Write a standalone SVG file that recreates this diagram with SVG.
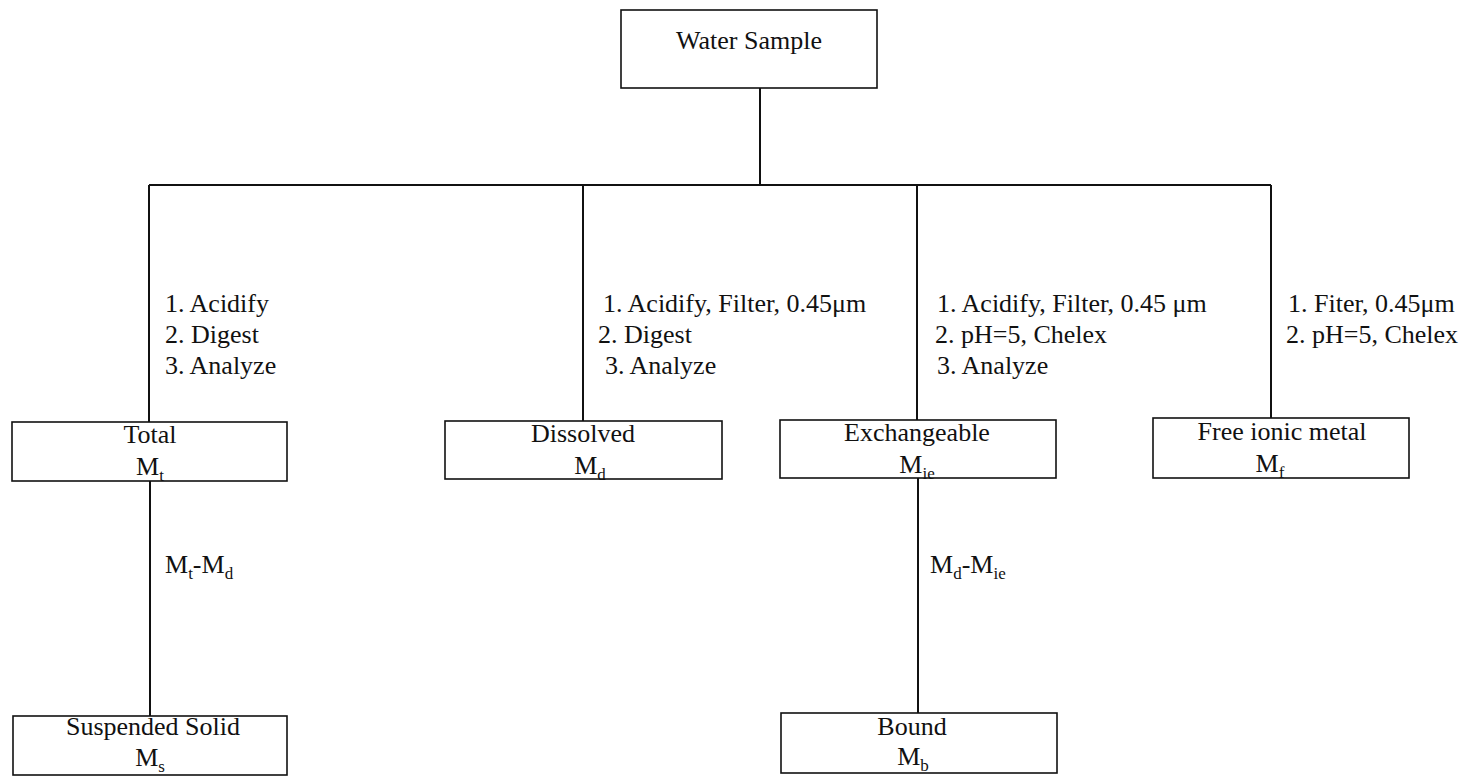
<svg xmlns="http://www.w3.org/2000/svg" width="1480" height="776" viewBox="0 0 1480 776">
<style>
  .box { fill: #fff; stroke: #111; stroke-width: 1.6; }
  .line { stroke: #111; stroke-width: 2; fill: none; }
  text { font-family: "Liberation Serif", "Times New Roman", serif; font-size: 26px; fill: #111; }
  .c { text-anchor: middle; }
  .sub { font-size: 17px; }
</style>
<rect width="1480" height="776" fill="#fff"/>
<g id="connectors">
  <line class="line" x1="760" y1="88" x2="760" y2="185"/>
  <line class="line" x1="149" y1="185" x2="1271" y2="185"/>
  <line class="line" x1="149" y1="185" x2="149" y2="422"/>
  <line class="line" x1="583" y1="185" x2="583" y2="421"/>
  <line class="line" x1="917" y1="185" x2="917" y2="420"/>
  <line class="line" x1="1271" y1="185" x2="1271" y2="418"/>
  <line class="line" x1="150" y1="481" x2="150" y2="716"/>
  <line class="line" x1="918" y1="478" x2="918" y2="713"/>
  <text x="165" y="312">1. Acidify</text>
  <text x="165" y="343">2. Digest</text>
  <text x="165" y="374">3. Analyze</text>
  <text x="603" y="312">1. Acidify, Filter, 0.45μm</text>
  <text x="598" y="343">2. Digest</text>
  <text x="605" y="374">3. Analyze</text>
  <text x="937" y="312">1. Acidify, Filter, 0.45 μm</text>
  <text x="935" y="343">2. pH=5, Chelex</text>
  <text x="937" y="374">3. Analyze</text>
  <text x="1288" y="312">1. Fiter, 0.45μm</text>
  <text x="1286" y="343">2. pH=5, Chelex</text>
  <text x="165" y="573">M<tspan class="sub" dy="6">t</tspan><tspan dy="-6">-M</tspan><tspan class="sub" dy="6">d</tspan></text>
  <text x="930" y="573">M<tspan class="sub" dy="6">d</tspan><tspan dy="-6">-M</tspan><tspan class="sub" dy="6">ie</tspan></text>
</g>
<g id="water-sample">
  <rect class="box" x="621" y="10" width="256" height="78"/>
  <text class="c" x="749" y="49">Water Sample</text>
</g>
<g id="total">
  <rect class="box" x="12" y="422" width="275" height="59"/>
  <text class="c" x="150" y="443">Total</text>
  <text class="c" x="150" y="475">M<tspan class="sub" dy="6">t</tspan></text>
</g>
<g id="dissolved">
  <rect class="box" x="445" y="421" width="277" height="58"/>
  <text class="c" x="583" y="442">Dissolved</text>
  <text class="c" x="590" y="474">M<tspan class="sub" dy="6">d</tspan></text>
</g>
<g id="exchangeable">
  <rect class="box" x="780" y="420" width="276" height="58"/>
  <text class="c" x="917" y="441">Exchangeable</text>
  <text class="c" x="917" y="473">M<tspan class="sub" dy="6">ie</tspan></text>
</g>
<g id="free-ionic-metal">
  <rect class="box" x="1153" y="418" width="256" height="60"/>
  <text class="c" x="1282" y="440">Free ionic metal</text>
  <text class="c" x="1270" y="472">M<tspan class="sub" dy="6">f</tspan></text>
</g>
<g id="suspended-solid">
  <rect class="box" x="13" y="716" width="274" height="59"/>
  <text class="c" x="153" y="735">Suspended Solid</text>
  <text class="c" x="150" y="766">M<tspan class="sub" dy="6">s</tspan></text>
</g>
<g id="bound">
  <rect class="box" x="781" y="713" width="276" height="60"/>
  <text class="c" x="912" y="735">Bound</text>
  <text class="c" x="913" y="765">M<tspan class="sub" dy="6">b</tspan></text>
</g>
</svg>
